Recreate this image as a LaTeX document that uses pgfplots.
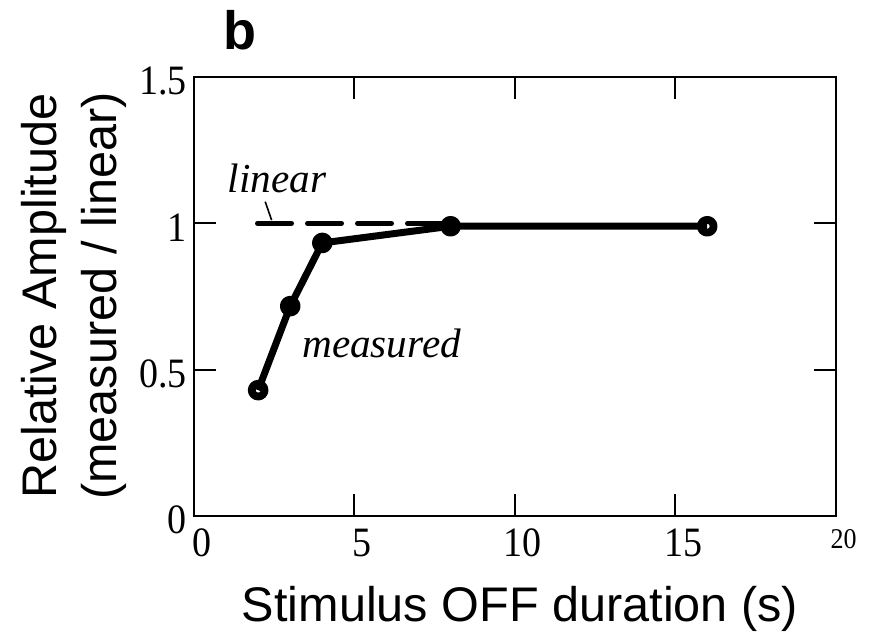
\documentclass[border=0pt]{standalone}
\usepackage{fontspec}
\setmainfont{Liberation Serif}
\setsansfont{Liberation Sans}
\usepackage{graphicx}
\usepackage{pgfplots}
\pgfplotsset{compat=1.18}
\newcommand{\sy}[1]{\scalebox{1}[1.1]{#1}}
\begin{document}
\begin{tikzpicture}
\useasboundingbox (-97pt,-59.5pt) rectangle (338.5pt,258pt);
\begin{axis}[
  at={(0,0)}, anchor=south west,
  scale only axis, width=320.75pt, height=219.5pt,
  xmin=0, xmax=20, ymin=0, ymax=1.5,
  xtick={0,5,10,15,20},
  xticklabels={\sy{0},\sy{5},\sy{10},\sy{15},{\fontsize{13}{13}\selectfont\sy{20}}},
  ytick={0,0.5,1,1.5},
  yticklabels={\sy{0},\sy{0.5},\sy{1},\sy{1.5}},
  tick align=inside,
  major tick length=11pt,
  axis line style={line width=1pt},
  every tick/.style={line width=1pt, black},
  ticklabel style={font=\fontsize{19}{19}\selectfont},
  xticklabel style={yshift=-3pt, xshift=4pt},
  yticklabel style={yshift=-2pt},
  clip=false,
]
\addplot[line width=2.5pt, dash pattern=on 17pt off 8pt, line cap=round]
  coordinates {(1.98,1) (8,1)};
\addplot[line width=3.5pt, line join=round,
  mark=o, mark size=3.2pt, mark options={line width=3.9pt, solid}]
  coordinates {(2,0.43) (3,0.717) (4,0.933) (8,0.99) (16,0.99)};
\node[anchor=base, font=\fontsize{20.6}{20.6}\selectfont\itshape, inner sep=0]
  at (axis cs:2.59,1.104) {linear};
\draw[line width=0.8pt] (axis cs:2.22,1.074) -- (axis cs:2.42,1.011);
\node[anchor=base, font=\fontsize{20.6}{20.6}\selectfont\itshape, inner sep=0]
  at (axis cs:5.85,0.543) {measured};
\end{axis}
\node[anchor=base west, inner sep=0, font=\sffamily\bfseries\fontsize{27}{27}\selectfont] at (14.5pt,233pt) {b};
\node[anchor=base, inner sep=0, font=\sffamily\fontsize{24.3}{24.3}\selectfont] at (163pt,-53pt) {Stimulus OFF duration (s)};
\node[rotate=90, align=center, inner sep=0, font=\sffamily\fontsize{24.3}{30}\selectfont] at (-60pt,110pt) {Relative Amplitude\\(measured / linear)};
\end{tikzpicture}
\end{document}
